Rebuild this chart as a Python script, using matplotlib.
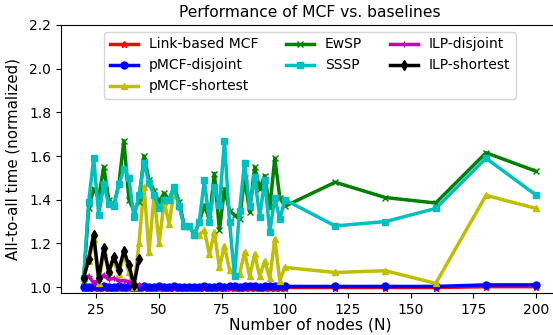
#!/usr/bin/python

"""Performance of MCF vs. baselines: all-to-all time normalized, by number of nodes."""

import matplotlib
matplotlib.use('Agg')
import matplotlib.pyplot as plt

# node counts used in the sweep
nodes = [20, 22, 24, 26, 28, 30, 32, 34, 36, 38, 40, 42, 44, 46, 48, 50,
         52, 54, 56, 58, 60, 62, 64, 66, 68, 70, 72, 74, 76, 78, 80, 82,
         84, 86, 88, 90, 92, 94, 96, 98, 100, 120, 140, 160, 180, 200]
ilp_nodes = [20, 22, 24, 26, 28, 30, 32, 34, 36, 38, 40, 42]

link_mcf = [0.998, 0.997, 0.998, 0.997, 0.998, 0.997, 0.998, 0.997, 0.998, 0.997,
            0.998, 0.997, 0.998, 0.997, 0.998, 0.997, 0.998, 0.997, 0.998, 0.997,
            0.998, 0.997, 0.998, 0.997, 0.998, 0.997, 0.998, 0.997, 0.998, 0.997,
            0.998, 0.997, 0.998, 0.997, 0.998, 0.997, 0.998, 0.997, 0.998, 0.997,
            0.998, 0.998, 0.998, 0.998, 1.002, 1.002]
pmcf_disjoint = [1.000, 1.002, 1.004, 1.001, 1.005, 1.002, 1.000, 1.003, 1.001, 1.004,
                 1.002, 1.000, 1.003, 1.001, 1.002, 1.004, 1.001, 1.000, 1.003, 1.002,
                 1.001, 1.000, 1.002, 1.001, 1.003, 1.002, 1.000, 1.004, 1.002, 1.006,
                 1.003, 1.002, 1.005, 1.003, 1.006, 1.002, 1.004, 1.007, 1.003, 1.004,
                 1.003, 1.003, 1.003, 1.003, 1.010, 1.010]
pmcf_shortest = [1.04, 1.12, 1.22, 1.02, 1.16, 1.07, 1.12, 1.06, 1.15, 1.07,
                 1.00, 1.20, 1.46, 1.16, 1.42, 1.20, 1.39, 1.29, 1.44, 1.37,
                 1.28, 1.28, 1.24, 1.24, 1.26, 1.15, 1.25, 1.09, 1.19, 1.08,
                 1.055, 1.06, 1.16, 1.05, 1.15, 1.05, 1.12, 1.04, 1.22, 1.03,
                 1.09, 1.067, 1.075, 1.017, 1.42, 1.36]
ewsp = [1.03, 1.36, 1.45, 1.41, 1.55, 1.40, 1.375, 1.47, 1.67, 1.40,
        1.35, 1.39, 1.60, 1.49, 1.44, 1.39, 1.43, 1.40, 1.46, 1.39,
        1.28, 1.28, 1.24, 1.30, 1.375, 1.31, 1.52, 1.26, 1.45, 1.35,
        1.33, 1.31, 1.50, 1.345, 1.55, 1.45, 1.51, 1.36, 1.59, 1.41,
        1.37, 1.48, 1.41, 1.385, 1.615, 1.53]
sssp = [1.04, 1.39, 1.59, 1.33, 1.47, 1.38, 1.37, 1.47, 1.54, 1.50,
        1.32, 1.42, 1.57, 1.475, 1.42, 1.36, 1.40, 1.40, 1.46, 1.37,
        1.28, 1.28, 1.24, 1.30, 1.49, 1.30, 1.46, 1.375, 1.67, 1.30,
        1.05, 1.35, 1.57, 1.37, 1.505, 1.32, 1.49, 1.25, 1.41, 1.31,
        1.40, 1.28, 1.30, 1.36, 1.59, 1.42]
ilp_disjoint = [1.04, 1.05, 1.02, 1.03, 1.055, 1.035, 1.04, 1.03, 1.03, 1.025, 1.01, 1.01]
ilp_shortest = [1.04, 1.13, 1.24, 1.04, 1.18, 1.07, 1.14, 1.08, 1.165, 1.10, 1.01, 1.13]


def main():
    fig = plt.figure(figsize=(5.53, 3.35), dpi=100)
    ax = fig.add_axes([0.1103, 0.1254, 0.9005, 0.8])

    lw = 2.5
    ms = 5
    ax.plot(nodes, link_mcf, color='r', marker='*', lw=lw, ms=ms, label='Link-based MCF')
    ax.plot(nodes, pmcf_disjoint, color='b', marker='o', lw=lw, ms=ms, label='pMCF-disjoint')
    ax.plot(nodes, pmcf_shortest, color='y', marker='^', lw=lw, ms=ms, label='pMCF-shortest')
    ax.plot(nodes, ewsp, color='g', marker='x', lw=lw, ms=ms, label='EwSP')
    ax.plot(nodes, sssp, color='c', marker='s', lw=lw, ms=ms, label='SSSP')
    ax.plot(ilp_nodes, ilp_disjoint, color='m', marker='+', lw=lw, ms=ms, label='ILP-disjoint')
    ax.plot(ilp_nodes, ilp_shortest, color='k', marker='d', lw=lw, ms=ms, label='ILP-shortest')

    ax.set_xlim(11, 209)
    ax.set_ylim(0.973, 2.2)
    ax.set_xticks([25, 50, 75, 100, 125, 150, 175, 200])
    ax.set_yticks([1.0, 1.2, 1.4, 1.6, 1.8, 2.0, 2.2])
    ax.tick_params(labelsize=10)

    ax.set_xlabel('Number of nodes (N)', fontsize=11.2, labelpad=0.5)
    ax.set_ylabel('All-to-all time (normalized)', fontsize=10.8, labelpad=6)
    ax.set_title('Performance of MCF vs. baselines', fontsize=11.2)
    ax.legend(loc='upper center', ncol=3, fontsize=10)

    fig.savefig('out.png', dpi=100)
    plt.close(fig)


if __name__ == '__main__':
    main()
